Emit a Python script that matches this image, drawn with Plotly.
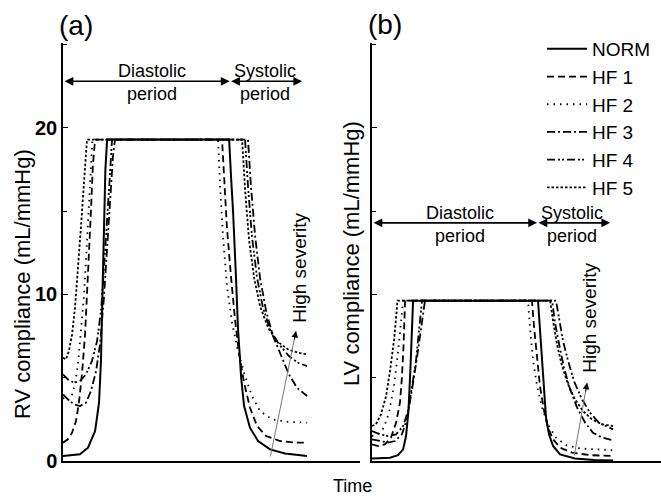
import plotly.graph_objects as go

# ---------------- DATA (time as fraction of cardiac cycle, compliance in mL/mmHg) ----------------
names = ["NORM", "HF 1", "HF 2", "HF 3", "HF 4", "HF 5"]

# Panel (a): RV compliance
rv_norm_t = [0, .069, .102, .131, .147, .155, .161, .167, .173, .180,
             .678, .686, .694, .706, .714, .727, .739, .763, .796, .845, .906, .996]
rv_norm_c = [0.3, 0.4, 0.8, 1.8, 3.5, 6, 10, 14, 17.5, 19.3,
             19.3, 17, 15, 11, 8, 5, 3.3, 2, 1.2, 0.7, 0.45, 0.3]

rv_hf1_t = [0, .020, .037, .053, .065, .078, .090, .102, .114, .122, .131,
            .649, .657, .669, .686, .702, .718, .739, .763, .792, .829, .886, .947, .996]
rv_hf1_c = [1.1, 1.3, 1.7, 2.4, 3.5, 5.3, 7.6, 11, 15, 17.8, 19.3,
            19.3, 17, 14, 11, 8.5, 6.5, 4.7, 3.2, 2.1, 1.5, 1.2, 1.1, 1.1]

rv_hf2_t = [0, .016, .033, .049, .061, .073, .086, .098, .110, .120,
            .633, .641, .653, .669, .690, .714, .743, .771, .804, .853, .918, .996]
rv_hf2_c = [3.8, 3.6, 3.8, 4.6, 5.8, 7.6, 10, 13.2, 16.5, 19.3,
            19.3, 16.5, 13.5, 10.5, 8.3, 6.6, 5.1, 3.9, 3.0, 2.5, 2.35, 2.3]

rv_hf3_t = [0, .020, .045, .069, .094, .114, .135, .151, .167, .180, .192, .204, .212,
            .755, .767, .784, .804, .829, .857, .890, .922, .955, .996]
rv_hf3_c = [4.0, 3.7, 3.4, 3.3, 3.5, 4.2, 5.4, 7, 9.8, 12.8, 15.8, 18.3, 19.3,
            19.3, 16.5, 13.5, 11, 9, 7.5, 6.3, 5.2, 4.4, 3.9]

rv_hf4_t = [0, .020, .045, .069, .094, .118, .139, .155, .167, .180, .192, .200,
            .743, .755, .771, .792, .816, .845, .882, .922, .959, .996]
rv_hf4_c = [5.2, 4.9, 4.7, 4.8, 5.2, 6, 7.2, 9, 11.5, 14.3, 17.3, 19.3,
            19.3, 16.5, 13.5, 11, 9.2, 7.9, 7, 6.3, 5.9, 5.7]

rv_hf5_t = [0, .012, .024, .037, .049, .061, .073, .086, .098,
            .731, .743, .759, .780, .804, .837, .873, .918, .959, .996]
rv_hf5_c = [6.2, 6.1, 6.6, 7.6, 9.2, 11.4, 14, 16.8, 19.3,
            19.3, 16.3, 13.3, 11, 9.3, 8, 7.2, 6.7, 6.5, 6.4]

# Panel (b): LV compliance
lv_norm_t = [0, .074, .107, .128, .140, .150, .158, .165, .169,
             .683, .691, .700, .708, .716, .728, .745, .774, .835, .914, .992]
lv_norm_c = [0.15, 0.2, 0.35, 0.7, 1.5, 3, 5.5, 8, 9.63,
             9.63, 8, 6, 4, 2.6, 1.6, 0.9, 0.4, 0.15, 0.06, 0.03]

lv_hf1_t = [0, .025, .053, .078, .099, .115, .123, .130, .136,
            .658, .667, .679, .691, .708, .724, .745, .774, .823, .897, .992]
lv_hf1_c = [1.0, 0.9, 1.0, 1.4, 2.3, 3.5, 5, 7, 9.63,
            9.63, 8, 6, 4.5, 3, 2, 1.3, 0.8, 0.5, 0.35, 0.3]

lv_hf2_t = [0, .025, .049, .070, .091, .107, .119, .128,
            .642, .650, .663, .679, .700, .724, .757, .798, .856, .922, .992]
lv_hf2_c = [1.5, 1.6, 2.0, 2.9, 4.6, 6.5, 8.3, 9.63,
            9.63, 8, 6, 4.5, 3.2, 2.2, 1.4, 0.95, 0.75, 0.68, 0.65]

lv_hf3_t = [0, .033, .066, .095, .123, .144, .156, .169, .185, .202, .218,
            .741, .753, .770, .790, .815, .844, .877, .909, .947, .992]
lv_hf3_c = [1.3, 1.2, 1.1, 1.2, 1.6, 2.5, 3.5, 4.7, 6.2, 8, 9.63,
            9.63, 8.3, 7, 5.6, 4.3, 3.2, 2.3, 1.7, 1.4, 1.25]

lv_hf4_t = [0, .033, .066, .099, .128, .148, .165, .181, .193, .206,
            .757, .770, .786, .807, .831, .864, .897, .934, .992]
lv_hf4_c = [1.8, 1.6, 1.5, 1.6, 2.1, 3, 4.5, 6, 7.8, 9.63,
            9.63, 8.5, 7.2, 6, 4.8, 3.7, 2.9, 2.3, 1.9]

lv_hf5_t = [0, .016, .037, .058, .074, .091, .105,
            .733, .745, .761, .782, .807, .835, .868, .905, .947, .992]
lv_hf5_c = [2.1, 2.2, 2.8, 3.9, 5.4, 7.3, 9.63,
            9.63, 8.4, 7, 5.7, 4.6, 3.7, 3, 2.5, 2.2, 2.1]

y_ticks = [0, 10, 20]
y_tick_labels = ["0", "10", "20"]

# ---------------- STYLE ----------------
FONT = "Liberation Sans, Arial, sans-serif"
dashes = ["solid", "7px,4px", "1.5px,5px", "8px,3px,2px,3px",
          "8px,3px,2px,2px,2px,3px", "2.5px,2px"]
widths = [2.0, 1.8, 1.8, 1.8, 1.8, 1.8]

rv_series = [(rv_norm_t, rv_norm_c), (rv_hf1_t, rv_hf1_c), (rv_hf2_t, rv_hf2_c),
             (rv_hf3_t, rv_hf3_c), (rv_hf4_t, rv_hf4_c), (rv_hf5_t, rv_hf5_c)]
lv_series = [(lv_norm_t, lv_norm_c), (lv_hf1_t, lv_hf1_c), (lv_hf2_t, lv_hf2_c),
             (lv_hf3_t, lv_hf3_c), (lv_hf4_t, lv_hf4_c), (lv_hf5_t, lv_hf5_c)]

fig = go.Figure()
for i, (t, c) in enumerate(rv_series):
    fig.add_trace(go.Scatter(x=t, y=c, mode="lines", name=names[i], legendgroup=names[i],
                             line=dict(color="black", width=widths[i], dash=dashes[i]),
                             xaxis="x", yaxis="y"))
for i, (t, c) in enumerate(lv_series):
    fig.add_trace(go.Scatter(x=t, y=c, mode="lines", name=names[i], legendgroup=names[i],
                             showlegend=False,
                             line=dict(color="black", width=widths[i], dash=dashes[i]),
                             xaxis="x2", yaxis="y2"))

W, H = 661, 499
ydom = [1 - 461 / H, 1 - 43 / H]
yax = dict(range=[0, 25.1], domain=ydom, showline=True, linecolor="black", linewidth=1.5,
           ticks="inside", ticklen=5, tickwidth=1.2, tickcolor="black",
           tickvals=y_ticks, ticktext=y_tick_labels, automargin=False,
           minor=dict(tickvals=[5, 15, 25], ticks="inside", ticklen=4, tickcolor="black", tickwidth=1.2),
           showgrid=False, zeroline=False,
           tickfont=dict(family=FONT, size=20, color="black", weight="bold"))
xax = dict(showline=True, linecolor="black", linewidth=1.5, showticklabels=False,
           showgrid=False, zeroline=False, automargin=False)

fig.update_layout(
    width=W, height=H, autosize=False, margin=dict(l=0, r=0, t=0, b=0, pad=0, autoexpand=False),
    paper_bgcolor="white", plot_bgcolor="white",
    font=dict(family=FONT, size=18, color="black"),
    xaxis=dict(xax, domain=[63 / W, 360 / W], range=[0, 1.212], anchor="y",
               ticks="inside", tickvals=[1.208], ticklen=5, tickwidth=1.2, tickcolor="black"),
    yaxis=dict(yax, anchor="x"),
    xaxis2=dict(xax, domain=[372 / W, 1.0], range=[0, 1.189], anchor="y2", ticks=""),
    yaxis2=dict(yax, anchor="x2", showticklabels=False),
    legend=dict(x=542 / W, y=1 - 30 / H, xanchor="left", yanchor="top",
                bgcolor="rgba(0,0,0,0)", borderwidth=0,
                font=dict(family=FONT, size=19, color="black"),
                tracegroupgap=0, itemwidth=40),
    showlegend=True,
)

ann = []


def paper_text(text, px, py, size, angle=0):
    return dict(text=text, xref="paper", yref="paper", x=px / W, y=1 - py / H,
                xanchor="center", yanchor="middle", textangle=angle,
                showarrow=False, font=dict(size=size))


ann.append(paper_text("(a)", 76, 25, 28))
ann.append(paper_text("(b)", 385, 24, 28))
ann.append(paper_text("RV compliance (mL/mmHg)", 22, 284, 22, -90))
ann.append(paper_text("LV compliance (mL/mmHg)", 352, 254, 22, -90))
ann.append(paper_text("Time", 352, 486, 18))

# period arrows and labels
periods = [("x", "y", 0.68, 0.976, 22.8, 0.363, 0.824),
           ("x2", "y2", 0.679, 0.98, 14.3, 0.362, 0.823)]
for xr, yr, split, end, ya, cd, cs in periods:
    for a0, a1 in [(0, split), (split, end)]:
        ann.append(dict(xref=xr, yref=yr, axref=xr, ayref=yr, x=a1, y=ya, ax=a0, ay=ya,
                        text="", showarrow=True, arrowhead=2, arrowside="end+start",
                        arrowsize=1.1, arrowwidth=1.6, arrowcolor="black"))
    for cx, word in [(cd, "Diastolic"), (cs, "Systolic")]:
        ann.append(dict(xref=xr, yref=yr, x=cx, y=ya, text=word, showarrow=False,
                        xanchor="center", yanchor="bottom", font=dict(size=18), yshift=-2))
        ann.append(dict(xref=xr, yref=yr, x=cx, y=ya, text="period", showarrow=False,
                        xanchor="center", yanchor="top", font=dict(size=18), yshift=-1))

# severity arrows: gray shaft with a black head
sev = [("x", "y", 0.845, 0.18, 0.951, 7.8, 0.943, 7.2, 0.967, 11.6),
       ("x2", "y2", 0.831, 0.24, 0.885, 4.7, 0.878, 4.08, 0.897, 8.6)]
for xr, yr, tx, ty, hx, hy, bx, by, lx, ly in sev:
    ann.append(dict(xref=xr, yref=yr, axref=xr, ayref=yr, x=hx, y=hy, ax=tx, ay=ty,
                    text="", showarrow=True, arrowhead=0, arrowwidth=1,
                    arrowcolor="#777777"))
    ann.append(dict(xref=xr, yref=yr, axref=xr, ayref=yr, x=hx, y=hy, ax=bx, ay=by,
                    text="", showarrow=True, arrowhead=2, arrowsize=1.3, arrowwidth=1,
                    arrowcolor="black"))
    ann.append(dict(xref=xr, yref=yr, x=lx, y=ly, text="High severity", textangle=-90,
                    xanchor="center", yanchor="middle",
                    showarrow=False, font=dict(size=19)))

fig.update_layout(annotations=ann)
fig.write_html("out.html", config={"displayModeBar": False},
               post_script="document.body.style.margin='0px';")
